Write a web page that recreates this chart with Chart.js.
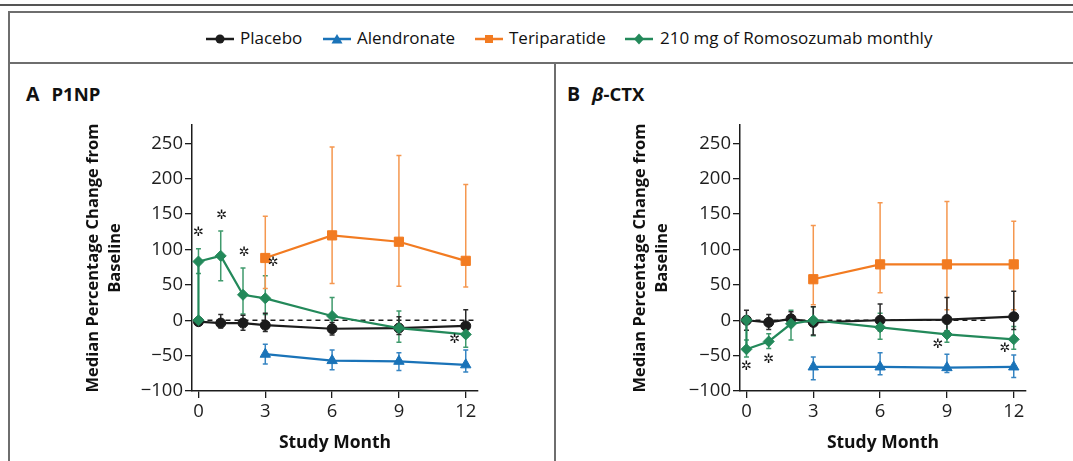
<!DOCTYPE html>
<html><head><meta charset="utf-8">
<script src="https://cdn.jsdelivr.net/npm/chart.js@4.4.1/dist/chart.umd.min.js"></script>
<style>
html,body{margin:0;padding:0;background:#fff;}
body{width:1073px;height:461px;position:relative;overflow:hidden;font-family:"Open Sans",sans-serif;color:#111;}
.abs{position:absolute;}
.lg{position:absolute;top:27.5px;font-size:17px;line-height:20px;white-space:nowrap;color:#111;}
.lgm{position:absolute;top:33px;}
.ptitle{position:absolute;top:84px;white-space:nowrap;font-weight:bold;line-height:19px;color:#111;}
</style></head><body>
<div class="abs" style="left:0;top:4px;width:1073px;height:2px;background:#555"></div>
<div class="abs" style="left:8px;top:11px;width:1065px;height:2px;background:#6e6e6e"></div>
<div class="abs" style="left:8px;top:11px;width:2px;height:450px;background:#6e6e6e"></div>
<div class="abs" style="left:8px;top:62px;width:1065px;height:2px;background:#6e6e6e"></div>
<div class="abs" style="left:554px;top:62px;width:2px;height:399px;background:#6e6e6e"></div>

<svg class="lgm" style="left:206px" width="28" height="12"><line x1="0" y1="6" x2="28" y2="6" stroke="#1c1c1c" stroke-width="2.5"/><circle cx="14" cy="6" r="4.5" fill="#1c1c1c"/></svg>
<div class="lg" style="left:240px">Placebo</div>
<svg class="lgm" style="left:323px" width="28" height="12"><line x1="0" y1="6" x2="28" y2="6" stroke="#1a73b8" stroke-width="2.5"/><polygon points="14,1 19.5,10.5 8.5,10.5" fill="#1a73b8"/></svg>
<div class="lg" style="left:357px">Alendronate</div>
<svg class="lgm" style="left:475px" width="28" height="12"><line x1="0" y1="6" x2="28" y2="6" stroke="#f27b21" stroke-width="2.5"/><rect x="10" y="2" width="8" height="8" fill="#f27b21"/></svg>
<div class="lg" style="left:509px">Teriparatide</div>
<svg class="lgm" style="left:625px" width="28" height="12"><line x1="0" y1="6" x2="28" y2="6" stroke="#23895a" stroke-width="2.5"/><polygon points="14,0.5 19,6 14,11.5 9,6" fill="#23895a"/></svg>
<div class="lg" style="left:660px">210 mg of Romosozumab monthly</div>

<div class="ptitle" style="left:26px"><span style="font-size:19.5px">A</span><span style="font-size:18.5px;margin-left:12px">P1NP</span></div>
<div class="ptitle" style="left:567px"><span style="font-size:19.5px">B</span><span style="font-size:18.5px;margin-left:12px"><i>β</i>-CTX</span></div>

<canvas id="cA" class="abs" style="left:10px;top:65px" width="545" height="396"></canvas>
<canvas id="cB" class="abs" style="left:556px;top:65px" width="517" height="396"></canvas>

<script>
// ---- categories / ticks ----
const months = [0, 1, 2, 3, 6, 9, 12];
const laterMonths = [3, 6, 9, 12];
const romoMonths = [0, 0, 1, 2, 3, 6, 9, 12];
const xTicks = [0, 3, 6, 9, 12];
const yTicks = [-100, -50, 0, 50, 100, 150, 200, 250];

// ---- Panel A: P1NP (median % change, with lower/upper bars) ----
const p1npPlacebo   = [-2, -4, -4, -7, -12, -11, -8];
const p1npPlaceboLo = [-6, -11, -14, -16, -21, -20, -24];
const p1npPlaceboHi = [3, 8, 7, 10, -3, 5, 15];
const p1npAlen      = [-48, -57, -58, -63];
const p1npAlenLo    = [-62, -70, -71, -73];
const p1npAlenHi    = [-34, -42, -46, -42];
const p1npTeri      = [88, 120, 111, 84];
const p1npTeriLo    = [45, 52, 48, 47];
const p1npTeriHi    = [147, 245, 233, 192];
const p1npRomo      = [0, 83, 91, 36, 31, 6, -11, -20];
const p1npRomoLo    = [-2, 66, 56, 9, 8, -10, -31, -38];
const p1npRomoHi    = [2, 101, 126, 74, 63, 32, 13, -5];
const p1npStarX     = [0, 1.04, 2.05, 3.36, 11.5];
const p1npStarY     = [124, 148, 95, 81, -28];
const p1npZero      = [0, 12.5];

// ---- Panel B: beta-CTX ----
const ctxPlacebo   = [0, -3, 2, -3, 0, 1, 5];
const ctxPlaceboLo = [-14, -13, -8, -21, -15, -15, -13];
const ctxPlaceboHi = [14, 8, 12, 19, 23, 32, 41];
const ctxAlen      = [-66, -66, -67, -66];
const ctxAlenLo    = [-84, -77, -74, -81];
const ctxAlenHi    = [-52, -46, -48, -49];
const ctxTeri      = [58, 79, 79, 79];
const ctxTeriLo    = [22, 39, 15, 15];
const ctxTeriHi    = [134, 166, 168, 140];
const ctxRomo      = [0, -41, -30, -5, 0, -10, -20, -27];
const ctxRomoLo    = [-3, -52, -40, -28, -22, -27, -31, -41];
const ctxRomoHi    = [3, -28, -19, 14, 19, 10, -5, -9];
const ctxStarX     = [0, 1, 8.6, 11.6];
const ctxStarY     = [-66, -55, -35, -40];
const ctxZero      = [0, 10.8];

const COL = {black:'#1c1c1c', blue:'#1a73b8', orange:'#f27b21', green:'#23895a'};
const ERR = {black:'#2a2a2a', blue:'#3584c2', orange:'#f5974f', green:'#3f9a6c'};

function pts(xs, ys){ return xs.map((x,i)=>({x:x, y:ys[i]})); }
function ds(xs, ys, lo, hi, key, style, r){
  return {data: pts(xs, ys), errLo: lo, errHi: hi, errColor: ERR[key], showLine: true,
    borderColor: COL[key], backgroundColor: COL[key], borderWidth: 2.2,
    pointStyle: style, pointRadius: r, pointBackgroundColor: COL[key], pointBorderColor: COL[key], pointBorderWidth: 1};
}

const overlay = {
  id: 'overlay',
  beforeDatasetsDraw(chart){
    const {ctx, scales:{x, y}} = chart;
    const cfg = chart.options.plugins.overlay;
    ctx.save();
    ctx.strokeStyle = '#1c1c1c'; ctx.lineWidth = 1.3; ctx.setLineDash([5, 4]);
    ctx.beginPath();
    ctx.moveTo(x.getPixelForValue(cfg.zero[0]), y.getPixelForValue(0));
    ctx.lineTo(x.getPixelForValue(cfg.zero[1]), y.getPixelForValue(0));
    ctx.stroke();
    ctx.setLineDash([]);
    chart.data.datasets.forEach(d=>{
      ctx.strokeStyle = d.errColor; ctx.lineWidth = 1.5;
      d.data.forEach((p, j)=>{
        const px = x.getPixelForValue(p.x);
        const lo = y.getPixelForValue(d.errLo[j]);
        const hi = y.getPixelForValue(d.errHi[j]);
        ctx.beginPath();
        ctx.moveTo(px, lo); ctx.lineTo(px, hi);
        ctx.moveTo(px-2.5, lo); ctx.lineTo(px+2.5, lo);
        ctx.moveTo(px-2.5, hi); ctx.lineTo(px+2.5, hi);
        ctx.stroke();
      });
    });
    ctx.restore();
  },
  afterDatasetsDraw(chart){
    const {ctx, scales:{x, y}} = chart;
    const cfg = chart.options.plugins.overlay;
    ctx.save();
    ctx.fillStyle = '#111';
    ctx.font = '13px "DejaVu Sans"';
    ctx.textAlign = 'center'; ctx.textBaseline = 'middle';
    cfg.starX.forEach((sx, i)=>{
      ctx.fillText('\u2732', x.getPixelForValue(sx), y.getPixelForValue(cfg.starY[i]));
    });
    ctx.restore();
  }
};

function makeChart(id, sets, starX, starY, zero, padLeft, yW, padRight){
  const font = {family: '"Open Sans", sans-serif', size: 18.5};
  return new Chart(document.getElementById(id), {
    type: 'scatter',
    data: {datasets: sets},
    plugins: [overlay],
    options: {
      responsive: false, animation: false, devicePixelRatio: 1,
      layout: {padding: {left: padLeft, right: padRight, top: 60, bottom: 7}},
      plugins: {legend: {display: false}, tooltip: {enabled: false}, overlay: {starX: starX, starY: starY, zero: zero}},
      scales: {
        x: {
          type: 'linear', min: -0.29, max: 12.55,
          afterBuildTicks: s => { s.ticks = xTicks.map(v=>({value: v})); },
          afterFit: s => { s.height = 63; },
          ticks: {color: '#1e1e1e', font: font, padding: 3, maxRotation: 0, callback: v => String(v)},
          grid: {display: true, drawOnChartArea: false, drawTicks: true, tickLength: 7, color: '#1c1c1c', lineWidth: 1.3},
          border: {display: true, color: '#1c1c1c', width: 1.5},
          title: {display: true, text: 'Study Month', color: '#111', padding: 0,
                  font: {family: '"Open Sans", sans-serif', size: 17.5, weight: 'bold', lineHeight: 1.2}}
        },
        y: {
          type: 'linear', min: -100, max: 276,
          afterBuildTicks: s => { s.ticks = yTicks.map(v=>({value: v})); },
          afterFit: s => { s.width = yW; },
          ticks: {color: '#1e1e1e', font: font, padding: 2, callback: v => (v < 0 ? '\u2212' + Math.abs(v) : String(v))},
          grid: {display: true, drawOnChartArea: false, drawTicks: true, tickLength: 7, color: '#1c1c1c', lineWidth: 1.3},
          border: {display: true, color: '#1c1c1c', width: 1.5},
          title: {display: true, text: ['Median Percentage Change from', 'Baseline'], color: '#111', padding: 0,
                  font: {family: '"Open Sans", sans-serif', size: 16.5, weight: 'bold', lineHeight: 1.35}}
        }
      }
    }
  });
}

makeChart('cA', [
  ds(romoMonths, p1npRomo, p1npRomoLo, p1npRomoHi, 'green', 'rectRot', 5.5),
  ds(laterMonths, p1npTeri, p1npTeriLo, p1npTeriHi, 'orange', 'rect', 6.5),
  ds(laterMonths, p1npAlen, p1npAlenLo, p1npAlenHi, 'blue', 'triangle', 6),
  ds(months, p1npPlacebo, p1npPlaceboLo, p1npPlaceboHi, 'black', 'circle', 5)
], p1npStarX, p1npStarY, p1npZero, 72, 110, 77);

makeChart('cB', [
  ds(romoMonths, ctxRomo, ctxRomoLo, ctxRomoHi, 'green', 'rectRot', 5.5),
  ds(laterMonths, ctxTeri, ctxTeriLo, ctxTeriHi, 'orange', 'rect', 6.5),
  ds(laterMonths, ctxAlen, ctxAlenLo, ctxAlenHi, 'blue', 'triangle', 6),
  ds(months, ctxPlacebo, ctxPlaceboLo, ctxPlaceboHi, 'black', 'circle', 5)
], ctxStarX, ctxStarY, ctxZero, 73, 111, 47);
</script>
</body></html>
